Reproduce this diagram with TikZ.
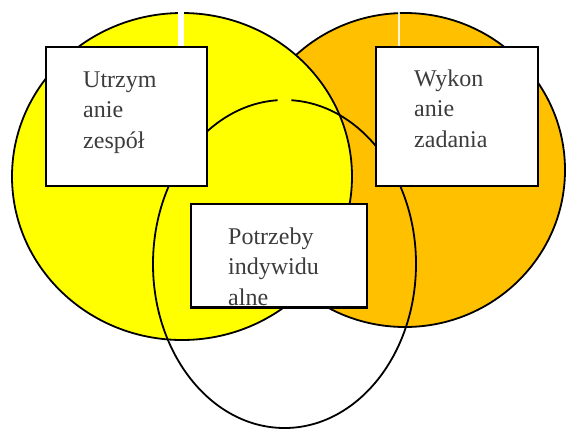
\documentclass[tikz,border=0pt]{standalone}
\usepackage{fontspec}
\setmainfont{Liberation Serif}
\definecolor{ylw}{HTML}{FFFF00}
\definecolor{orng}{HTML}{FFC000}
\definecolor{txtgray}{HTML}{3C3C3C}
\begin{document}
\begin{tikzpicture}[x=1pt,y=-1pt,
  outline/.style={draw=black,line width=1.8pt},
  boxnode/.style={fill=white,draw=black,line width=1.8pt,inner sep=0pt,anchor=north west},
  lbltext/.style={anchor=base west,inner sep=0pt,align=left,text=txtgray,
    font=\fontsize{24}{30.5}\selectfont}]
\useasboundingbox (0,0) rectangle (569,432);
% orange circle (task)
\path[fill=orng,outline] (405,170) ellipse [x radius=160,y radius=157];
% yellow circle (team)
\path[fill=ylw,outline] (182,176.5) ellipse [x radius=170,y radius=163.5];
% white stripes at the tops
\fill[white] (178,11) rectangle (183.5,46);
\fill[white,opacity=0.85] (397.5,11) rectangle (400,46);
% individual circle (outline, gap at top)
\coordinate (cc) at (284.5,264);
\draw[outline] (cc) ++(-87:131.5 and 164)
  arc [start angle=-87,end angle=267,x radius=131.5,y radius=164];
% boxes
\node[boxnode,minimum width=161pt,minimum height=139pt] (b1) at (45,46) {};
\node[boxnode,minimum width=162pt,minimum height=139pt] (b2) at (375,46) {};
\node[boxnode,minimum width=176pt,minimum height=103pt] (b3) at (190,203) {};
% texts
\node[lbltext] (t1) at (83,148) {Utrzym\\anie\\zespół};
\node[lbltext] (t2) at (414,147) {Wykon\\anie\\zadania};
\node[lbltext] (t3) at (228,305) {Potrzeby\\indywidu\\alne};
\draw[line width=1.8pt] (b3.south west) -- (b3.south east);
\end{tikzpicture}
\end{document}
